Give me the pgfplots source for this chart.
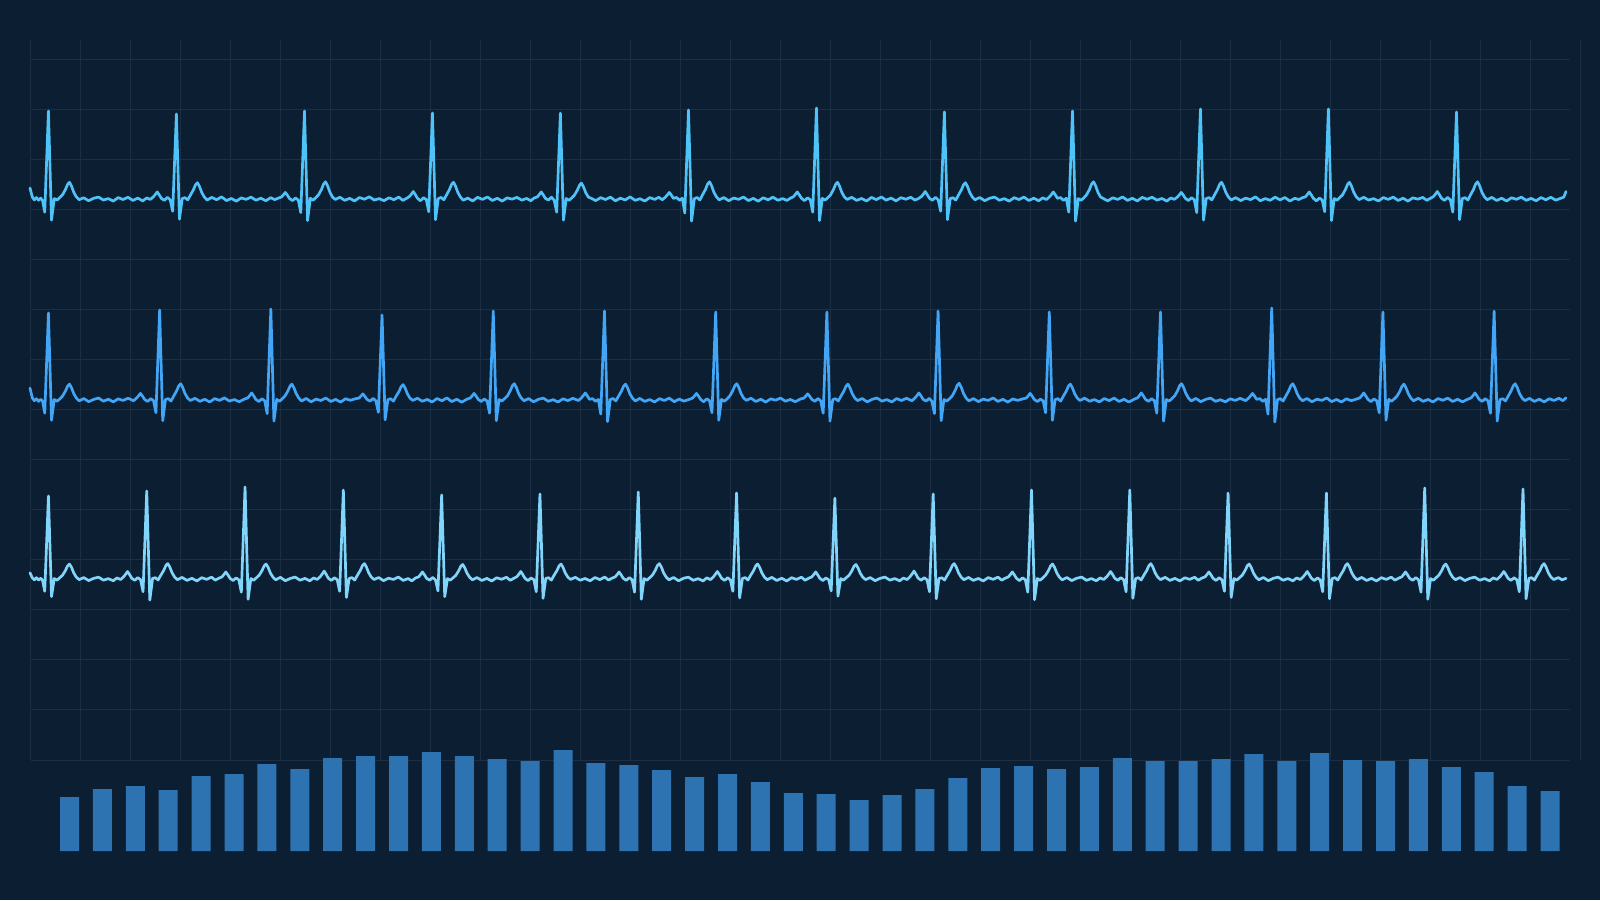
\documentclass[border=0pt]{standalone}
\usepackage{pgfplots}
\pgfplotsset{compat=1.18}
\definecolor{bg}{RGB}{11,30,50}
\definecolor{gridc}{RGB}{27,46,68}
\definecolor{ecgA}{HTML}{4FC3F7}
\definecolor{ecgB}{HTML}{42A5F5}
\definecolor{ecgC}{HTML}{81D4FA}
\definecolor{barc}{RGB}{45,115,178}
\pgfplotsset{
  base/.style={scale only axis, anchor=south west, axis line style={draw=none}, tick style={draw=none}, xticklabels={}, yticklabels={}},
  ecg/.style={base, width=768pt, height=110pt, xmin=0, xmax=10000, ymin=-1000, ymax=1500, xtick=\empty, ytick=\empty, clip=false},
  trace/.style={line width=1.35pt, line join=round, line cap=round, mark=none},
}
\begin{document}
\begin{tikzpicture}
\fill[bg] (0,0) rectangle (800pt,450pt);
\path[use as bounding box] (0,0) rectangle (800pt,450pt);
% vertical grid lines
\begin{axis}[base, at={(15.35pt,70pt)}, width=775pt, height=360pt, xmin=0, xmax=1550, ymin=0, ymax=1,
  xtick={0,50,...,1550}, ytick=\empty, xmajorgrids, major grid style={gridc, line width=0.5pt}]
\addplot[draw=none] coordinates {(0,0)};
\end{axis}
% horizontal grid lines
\begin{axis}[base, at={(15.35pt,70pt)}, width=769.65pt, height=350pt, xmin=0, xmax=1, ymin=0, ymax=700,
  ytick={0,50,...,700}, xtick=\empty, ymajorgrids, major grid style={gridc, line width=0.5pt}]
\addplot[draw=none] coordinates {(0,0)};
\end{axis}
% ECG lead 1 (x in ms, y in microvolts)
\begin{axis}[ecg, at={(15pt,306.5pt)}]
\addplot[ecgA, trace] coordinates {
(0,125) (8,70) (16,20) (28,-10) (42,16) (56,-14) (70,10) (82,-18) (96,-150) (120,1000) (140,-240) (158,5) (176,-12) (194,18) (212,48) (230,105) (245,167) (257,190) (270,148) (285,76) (302,23) (320,-8) (350,14) (382,-20) (414,8) (446,22) (478,-12) (510,5) (542,-24) (574,16) (606,-6) (638,20) (670,-16) (702,10) (734,-22) (760,12)
(783,-5) (803,24) (818,56) (828,80) (841,48) (855,8) (875,-15) (895,18) (913,-10) (929,-140) (953,966) (973,-230) (991,5) (1009,15) (1027,-10) (1045,46) (1063,102) (1078,163) (1090,185) (1103,144) (1118,74) (1135,22) (1153,-12) (1183,18) (1215,-8) (1247,24) (1279,-18) (1311,6) (1343,-25) (1375,12) (1407,-4) (1439,21) (1471,-14) (1503,9) (1535,-20) (1567,15) (1593,-7)
(1617,10) (1637,22) (1652,52) (1662,75) (1675,45) (1689,6) (1709,-18) (1729,12) (1747,-14) (1763,-155) (1787,1000) (1807,-245) (1825,8) (1843,-14) (1861,16) (1879,49) (1897,107) (1912,172) (1924,195) (1937,152) (1952,78) (1969,24) (1987,-6) (2017,20) (2049,-15) (2081,7) (2113,-22) (2145,17) (2177,-3) (2209,25) (2241,-12) (2273,4) (2305,-19) (2337,14) (2369,-8) (2401,22) (2427,-16)
(2450,6) (2470,28) (2485,60) (2495,85) (2508,51) (2522,9) (2542,-20) (2562,15) (2580,-6) (2596,-145) (2620,977) (2640,-235) (2658,4) (2676,18) (2694,-9) (2712,47) (2730,105) (2745,167) (2757,190) (2770,148) (2785,76) (2802,23) (2820,-14) (2850,10) (2882,-22) (2914,19) (2946,-5) (2978,23) (3010,-17) (3042,8) (3074,-24) (3106,13) (3138,-2) (3170,18) (3202,-13) (3234,6) (3260,-20)
(3283,12) (3303,24) (3318,56) (3328,80) (3341,48) (3355,8) (3375,-12) (3395,20) (3413,-16) (3429,-150) (3453,977) (3473,-240) (3491,6) (3509,-15) (3527,12) (3545,45) (3563,99) (3578,158) (3590,180) (3603,140) (3618,72) (3635,22) (3653,8) (3683,-18) (3715,15) (3747,-6) (3779,21) (3811,-21) (3843,9) (3875,-11) (3907,24) (3939,-15) (3971,3) (4003,-23) (4035,16) (4067,-5) (4093,19)
(4117,-8) (4137,22) (4152,52) (4162,75) (4175,45) (4189,7) (4209,17) (4229,-14) (4247,9) (4263,-160) (4287,1011) (4307,-250) (4325,3) (4343,17) (4361,-11) (4379,49) (4397,107) (4412,172) (4424,195) (4437,152) (4452,78) (4469,24) (4487,-10) (4517,16) (4549,-20) (4581,11) (4613,-4) (4645,22) (4677,-18) (4709,7) (4741,-25) (4773,14) (4805,-9) (4837,20) (4869,-14) (4901,5) (4927,-17)
(4950,9) (4970,26) (4985,56) (4995,80) (5008,48) (5022,10) (5042,-19) (5062,13) (5080,-8) (5096,-150) (5120,1034) (5140,-245) (5158,7) (5176,-13) (5194,15) (5212,47) (5230,105) (5245,167) (5257,190) (5270,148) (5285,76) (5302,23) (5320,-5) (5350,19) (5382,-16) (5414,6) (5446,-23) (5478,18) (5510,-7) (5542,23) (5574,-13) (5606,10) (5638,-21) (5670,15) (5702,-3) (5734,20) (5760,-12)
(5783,4) (5803,27) (5818,60) (5828,85) (5841,51) (5855,9) (5875,-14) (5895,19) (5913,-11) (5929,-140) (5953,989) (5973,-235) (5991,5) (6009,14) (6027,-12) (6045,46) (6063,102) (6078,163) (6090,185) (6103,144) (6118,74) (6135,22) (6153,-9) (6183,17) (6215,-19) (6247,8) (6279,22) (6311,-14) (6343,4) (6375,-24) (6407,15) (6439,-6) (6471,21) (6503,-17) (6535,9) (6567,-20) (6593,13)
(6617,-6) (6637,24) (6652,56) (6662,80) (6675,48) (6689,8) (6709,16) (6729,-16) (6747,8) (6763,-150) (6787,1000) (6807,-250) (6825,4) (6843,-15) (6861,13) (6879,49) (6897,107) (6912,172) (6924,195) (6937,152) (6952,78) (6969,24) (6987,6) (7017,-21) (7049,14) (7081,-5) (7113,23) (7145,-16) (7177,8) (7209,-22) (7241,18) (7273,-3) (7305,20) (7337,-13) (7369,6) (7401,-24) (7427,12)
(7450,-4) (7470,22) (7485,52) (7495,75) (7508,45) (7522,7) (7542,-17) (7562,14) (7580,-9) (7596,-155) (7620,1023) (7640,-240) (7658,6) (7676,16) (7694,-10) (7712,47) (7730,105) (7745,167) (7757,190) (7770,148) (7785,76) (7802,23) (7820,-11) (7850,15) (7882,-18) (7914,10) (7946,-7) (7978,24) (8010,-20) (8042,5) (8074,-15) (8106,21) (8138,-10) (8170,17) (8202,-23) (8234,8) (8260,-6)
(8283,14) (8303,24) (8318,56) (8328,80) (8341,48) (8355,8) (8375,-21) (8395,11) (8413,-13) (8429,-145) (8453,1023) (8473,-245) (8491,5) (8509,-14) (8527,17) (8545,47) (8563,105) (8578,167) (8590,190) (8603,148) (8618,76) (8635,23) (8653,-7) (8683,19) (8715,-12) (8747,4) (8779,-22) (8811,16) (8843,-5) (8875,22) (8907,-17) (8939,9) (8971,-24) (9003,13) (9035,-2) (9067,18) (9093,-15)
(9117,7) (9137,28) (9152,60) (9162,85) (9175,51) (9189,9) (9209,-16) (9229,18) (9247,-10) (9263,-150) (9287,989) (9307,-235) (9325,6) (9343,15) (9361,-12) (9379,49) (9397,107) (9412,172) (9424,195) (9437,152) (9452,78) (9469,24) (9487,-8) (9517,18) (9549,-17) (9581,9) (9613,-23) (9645,14) (9677,-4) (9709,21) (9741,-15) (9773,7) (9805,-20) (9837,16) (9869,-9) (9901,19) (9933,-13) (9965,8) (9985,20) (10000,85)
};
\end{axis}
% ECG lead 2
\begin{axis}[ecg, at={(15pt,206pt)}]
\addplot[ecgB, trace] coordinates {
(0,136) (8,75) (16,22) (28,-8) (42,14) (56,-16) (70,8) (82,-12) (96,-150) (120,989) (140,-230) (158,6) (176,-14) (194,12) (212,45) (230,99) (245,158) (257,180) (270,140) (285,72) (302,22) (320,-10) (350,17) (382,-19) (414,6) (446,23) (478,-14) (510,9) (542,-21) (574,13) (606,-5) (638,20)
(674,-8) (694,22) (709,52) (719,75) (732,45) (746,7) (766,-16) (786,15) (804,-7) (820,-145) (844,1023) (864,-235) (882,5) (900,16) (918,-12) (936,46) (954,102) (969,163) (981,185) (994,144) (1009,74) (1026,22) (1044,-6) (1074,19) (1106,-15) (1138,8) (1170,-23) (1202,16) (1234,-4) (1266,24) (1298,-12) (1330,5) (1362,-20)
(1398,12) (1418,24) (1433,56) (1443,80) (1456,48) (1470,8) (1490,-18) (1510,14) (1528,-9) (1544,-155) (1568,1034) (1588,-240) (1606,7) (1624,-15) (1642,13) (1660,45) (1678,99) (1693,158) (1705,180) (1718,140) (1733,72) (1750,22) (1768,-12) (1798,18) (1830,-21) (1862,10) (1894,-6) (1926,22) (1958,-17) (1990,7) (2022,-24) (2054,14) (2086,-3)
(2122,16) (2142,21) (2157,49) (2167,70) (2180,42) (2194,7) (2214,-13) (2234,19) (2252,-11) (2268,-140) (2292,966) (2312,-225) (2330,4) (2348,14) (2366,-13) (2384,44) (2402,96) (2417,154) (2429,175) (2442,137) (2457,70) (2474,21) (2492,-5) (2522,20) (2554,-14) (2586,6) (2618,-22) (2650,17) (2682,-8) (2714,23) (2746,-18) (2778,9) (2810,-25)
(2846,11) (2866,22) (2881,52) (2891,75) (2904,45) (2918,7) (2938,-17) (2958,12) (2976,-12) (2992,-150) (3016,1011) (3036,-235) (3054,6) (3072,-12) (3090,16) (3108,46) (3126,102) (3141,163) (3153,185) (3166,144) (3181,74) (3198,22) (3216,-9) (3246,16) (3278,-20) (3310,8) (3342,21) (3374,-15) (3406,4) (3438,-23) (3470,14) (3502,-7) (3534,19)
(3570,-6) (3590,24) (3605,56) (3615,80) (3628,48) (3642,8) (3662,15) (3682,-14) (3700,6) (3716,-160) (3740,1011) (3760,-245) (3778,5) (3796,17) (3814,-10) (3832,45) (3850,99) (3865,158) (3877,180) (3890,140) (3905,72) (3922,22) (3940,-11) (3970,18) (4002,-16) (4034,5) (4066,-22) (4098,15) (4130,-5) (4162,21) (4194,-19) (4226,10) (4258,-13)
(4294,8) (4314,22) (4329,52) (4339,75) (4352,45) (4366,7) (4386,-20) (4406,13) (4424,-8) (4440,-145) (4464,1000) (4484,-230) (4502,7) (4520,-14) (4538,12) (4556,46) (4574,102) (4589,163) (4601,185) (4614,144) (4629,74) (4646,22) (4664,-4) (4694,20) (4726,-17) (4758,9) (4790,-24) (4822,13) (4854,-2) (4886,22) (4918,-14) (4950,6) (4982,-19)
(5018,13) (5038,21) (5053,49) (5063,70) (5076,42) (5090,7) (5110,-15) (5130,17) (5148,-10) (5164,-150) (5188,1000) (5208,-240) (5226,4) (5244,15) (5262,-11) (5280,45) (5298,99) (5313,158) (5325,180) (5338,140) (5353,72) (5370,22) (5388,-7) (5418,17) (5450,-21) (5482,7) (5514,23) (5546,-13) (5578,5) (5610,-22) (5642,16) (5674,-6) (5706,20)
(5742,-9) (5762,24) (5777,56) (5787,80) (5800,48) (5814,8) (5834,-12) (5854,18) (5872,-14) (5888,-155) (5912,1011) (5932,-235) (5950,6) (5968,-13) (5986,14) (6004,47) (6022,105) (6037,167) (6049,190) (6062,148) (6077,76) (6094,23) (6112,-10) (6142,16) (6174,-18) (6206,10) (6238,-5) (6270,23) (6302,-16) (6334,8) (6366,-24) (6398,12) (6430,-4)
(6466,14) (6486,22) (6501,52) (6511,75) (6524,45) (6538,7) (6558,-18) (6578,10) (6596,-11) (6612,-145) (6636,1000) (6656,-230) (6674,5) (6692,15) (6710,-12) (6728,45) (6746,99) (6761,158) (6773,180) (6786,140) (6801,72) (6818,22) (6836,-6) (6866,21) (6898,-14) (6930,5) (6962,-22) (6994,17) (7026,-7) (7058,22) (7090,-17) (7122,8) (7154,-23)
(7190,10) (7210,24) (7225,56) (7235,80) (7248,48) (7262,8) (7282,-15) (7302,14) (7320,-8) (7336,-150) (7360,1000) (7380,-240) (7398,6) (7416,-12) (7434,15) (7452,46) (7470,102) (7485,163) (7497,185) (7510,144) (7525,74) (7542,22) (7560,-11) (7590,18) (7622,-19) (7654,7) (7686,22) (7718,-15) (7750,3) (7782,-21) (7814,14) (7846,-5) (7878,19)
(7914,-7) (7934,22) (7949,52) (7959,75) (7972,45) (7986,7) (8006,16) (8026,-15) (8044,7) (8060,-160) (8084,1045) (8104,-250) (8122,4) (8140,16) (8158,-12) (8176,46) (8194,102) (8209,163) (8221,185) (8234,144) (8249,74) (8266,22) (8284,-8) (8314,17) (8346,-20) (8378,9) (8410,-4) (8442,23) (8474,-18) (8506,6) (8538,-23) (8570,14) (8602,-8)
(8638,12) (8658,24) (8673,56) (8683,80) (8696,48) (8710,8) (8730,-19) (8750,12) (8768,-10) (8784,-145) (8808,1000) (8828,-230) (8846,7) (8864,-14) (8882,13) (8900,45) (8918,99) (8933,158) (8945,180) (8958,140) (8973,72) (8990,22) (9008,-9) (9038,19) (9070,-15) (9102,6) (9134,-22) (9166,16) (9198,-3) (9230,21) (9262,-17) (9294,8) (9326,-20)
(9362,10) (9382,24) (9397,56) (9407,80) (9420,48) (9434,8) (9454,-16) (9474,15) (9492,-9) (9508,-150) (9532,1011) (9552,-240) (9570,5) (9588,14) (9606,-11) (9624,46) (9642,102) (9657,163) (9669,185) (9682,144) (9697,74) (9714,22) (9732,-7) (9762,18) (9794,-16) (9826,9) (9858,-21) (9890,14) (9922,-5) (9954,20) (9980,-8) (10000,25)
};
\end{axis}
% ECG lead 3
\begin{axis}[ecg, at={(15pt,116.5pt)}]
\addplot[ecgC, trace] coordinates {
(0,70) (8,40) (16,12) (28,-10) (42,15) (56,-12) (70,9) (82,-15) (96,-140) (120,943) (140,-200) (158,5) (176,-13) (194,15) (212,43) (230,94) (245,150) (257,170) (270,133) (285,68) (302,20) (320,-7) (350,16) (382,-18) (414,7) (446,21) (478,-13) (510,4) (542,-20) (566,12)
(590,-6) (610,26) (625,60) (635,85) (648,51) (662,9) (682,-15) (702,16) (720,-9) (736,-145) (760,1000) (780,-240) (798,6) (816,15) (834,-11) (852,44) (870,96) (885,154) (897,175) (910,137) (925,70) (942,21) (960,-8) (990,18) (1022,-16) (1054,8) (1086,-22) (1118,15) (1150,-4) (1182,21) (1206,-13)
(1230,9) (1250,24) (1265,56) (1275,80) (1288,48) (1302,8) (1322,-17) (1342,13) (1360,-10) (1376,-150) (1400,1045) (1420,-230) (1438,5) (1456,-14) (1474,14) (1492,43) (1510,94) (1525,150) (1537,170) (1550,133) (1565,68) (1582,20) (1600,-9) (1630,19) (1662,-20) (1694,6) (1726,22) (1758,-14) (1790,7) (1822,-21) (1846,12)
(1870,-5) (1890,27) (1905,63) (1915,90) (1928,54) (1942,9) (1962,-16) (1982,14) (2000,-8) (2016,-140) (2040,1011) (2060,-210) (2078,6) (2096,16) (2114,-12) (2132,44) (2150,96) (2165,154) (2177,175) (2190,137) (2205,70) (2222,21) (2240,-6) (2270,17) (2302,-19) (2334,9) (2366,-5) (2398,22) (2430,-16) (2462,5) (2486,-21)
(2510,12) (2530,24) (2545,56) (2555,80) (2568,48) (2582,8) (2602,-13) (2622,17) (2640,-11) (2656,-135) (2680,955) (2700,-200) (2718,4) (2736,-13) (2754,13) (2772,41) (2790,91) (2805,145) (2817,165) (2830,129) (2845,66) (2862,20) (2880,-10) (2910,16) (2942,-17) (2974,7) (3006,-23) (3038,14) (3070,-3) (3102,20) (3126,-15)
(3150,8) (3170,26) (3185,60) (3195,85) (3208,51) (3222,9) (3242,-18) (3262,11) (3280,-7) (3296,-145) (3320,966) (3340,-220) (3358,6) (3376,15) (3394,-13) (3412,43) (3430,94) (3445,150) (3457,170) (3470,133) (3485,68) (3502,20) (3520,-5) (3550,19) (3582,-14) (3614,6) (3646,-21) (3678,17) (3710,-7) (3742,22) (3766,-12)
(3790,10) (3810,24) (3825,56) (3835,80) (3848,48) (3862,8) (3882,-15) (3902,16) (3920,-10) (3936,-150) (3960,989) (3980,-230) (3998,5) (4016,-14) (4034,14) (4052,44) (4070,96) (4085,154) (4097,175) (4110,137) (4125,70) (4142,21) (4160,-9) (4190,17) (4222,-20) (4254,8) (4286,21) (4318,-15) (4350,4) (4382,-22) (4406,13)
(4430,-7) (4450,26) (4465,60) (4475,85) (4488,51) (4502,9) (4522,-16) (4542,14) (4560,-11) (4576,-140) (4600,977) (4620,-215) (4638,6) (4656,16) (4674,-12) (4692,43) (4710,94) (4725,150) (4737,170) (4750,133) (4765,68) (4782,20) (4800,-8) (4830,18) (4862,-17) (4894,9) (4926,-23) (4958,15) (4990,-5) (5022,21) (5046,-14)
(5070,9) (5090,24) (5105,56) (5115,80) (5128,48) (5142,8) (5162,-17) (5182,12) (5200,-9) (5216,-135) (5240,920) (5260,-195) (5278,4) (5296,-13) (5314,15) (5332,41) (5350,91) (5365,145) (5377,165) (5390,129) (5405,66) (5422,20) (5440,-7) (5470,16) (5502,-19) (5534,7) (5566,22) (5598,-13) (5630,5) (5662,-21) (5686,11)
(5710,-6) (5730,27) (5745,63) (5755,90) (5768,54) (5782,9) (5802,-14) (5822,15) (5840,-10) (5856,-145) (5880,966) (5900,-225) (5918,5) (5936,14) (5954,-12) (5972,44) (5990,96) (6005,154) (6017,175) (6030,137) (6045,70) (6062,21) (6080,-8) (6110,18) (6142,-16) (6174,6) (6206,-22) (6238,16) (6270,-4) (6302,21) (6326,-13)
(6350,10) (6370,24) (6385,56) (6395,80) (6408,48) (6422,8) (6442,-18) (6462,13) (6480,-8) (6496,-150) (6520,1011) (6540,-235) (6558,6) (6576,-15) (6594,13) (6612,43) (6630,94) (6645,150) (6657,170) (6670,133) (6685,68) (6702,20) (6720,-10) (6750,17) (6782,-18) (6814,8) (6846,22) (6878,-15) (6910,5) (6942,-20) (6966,12)
(6990,-5) (7010,26) (7025,60) (7035,85) (7048,51) (7062,9) (7082,-15) (7102,16) (7120,-9) (7136,-145) (7160,1011) (7180,-220) (7198,5) (7216,15) (7234,-11) (7252,44) (7270,96) (7285,154) (7297,175) (7310,137) (7325,70) (7342,21) (7360,-7) (7390,19) (7422,-16) (7454,7) (7486,-22) (7518,14) (7550,-4) (7582,20) (7606,-14)
(7630,11) (7650,24) (7665,56) (7675,80) (7688,48) (7702,8) (7722,-16) (7742,14) (7760,-10) (7776,-140) (7800,977) (7820,-210) (7838,6) (7856,-13) (7874,14) (7892,43) (7910,94) (7925,150) (7937,170) (7950,133) (7965,68) (7982,20) (8000,-9) (8030,17) (8062,-19) (8094,8) (8126,21) (8158,-14) (8190,5) (8222,-21) (8246,12)
(8270,-6) (8290,26) (8305,60) (8315,85) (8328,51) (8342,9) (8362,-17) (8382,13) (8400,-11) (8416,-145) (8440,977) (8460,-225) (8478,5) (8496,16) (8514,-12) (8532,44) (8550,96) (8565,154) (8577,175) (8590,137) (8605,70) (8622,21) (8640,-8) (8670,18) (8702,-17) (8734,7) (8766,-22) (8798,15) (8830,-5) (8862,21) (8886,-13)
(8910,9) (8930,24) (8945,56) (8955,80) (8968,48) (8982,8) (9002,-15) (9022,16) (9040,-9) (9056,-150) (9080,1034) (9100,-230) (9118,4) (9136,-14) (9154,14) (9172,43) (9190,94) (9205,150) (9217,170) (9230,133) (9245,68) (9262,20) (9280,-8) (9310,17) (9342,-18) (9374,8) (9406,21) (9438,-14) (9470,5) (9502,-21) (9526,12)
(9550,-5) (9570,26) (9585,60) (9595,85) (9608,51) (9622,9) (9642,-16) (9662,14) (9680,-10) (9696,-145) (9720,1023) (9740,-225) (9758,6) (9776,15) (9794,-12) (9812,44) (9830,96) (9845,154) (9857,175) (9870,137) (9885,70) (9902,21) (9920,-6) (9950,16) (9975,-10) (10000,8)
};
\end{axis}
% bar strip
\begin{axis}[base, at={(26.525pt,24.5pt)}, width=756.7pt, height=55pt, xmin=0.5, xmax=46.5, ymin=0, ymax=110,
  xtick=\empty, ytick=\empty, ybar, bar width=9.5pt]
\addplot[fill=barc, draw=none] coordinates {
(1,54) (2,62) (3,65) (4,61) (5,75) (6,77) (7,87) (8,82) (9,93) (10,95) (11,95) (12,99) (13,95) (14,92) (15,90) (16,101)
(17,88) (18,86) (19,81) (20,74) (21,77) (22,69) (23,58) (24,57) (25,51) (26,56) (27,62) (28,73) (29,83) (30,85) (31,82)
(32,84) (33,93) (34,90) (35,90) (36,92) (37,97) (38,90) (39,98) (40,91) (41,90) (42,92) (43,84) (44,79) (45,65) (46,60)
};
\end{axis}
\end{tikzpicture}
\end{document}
